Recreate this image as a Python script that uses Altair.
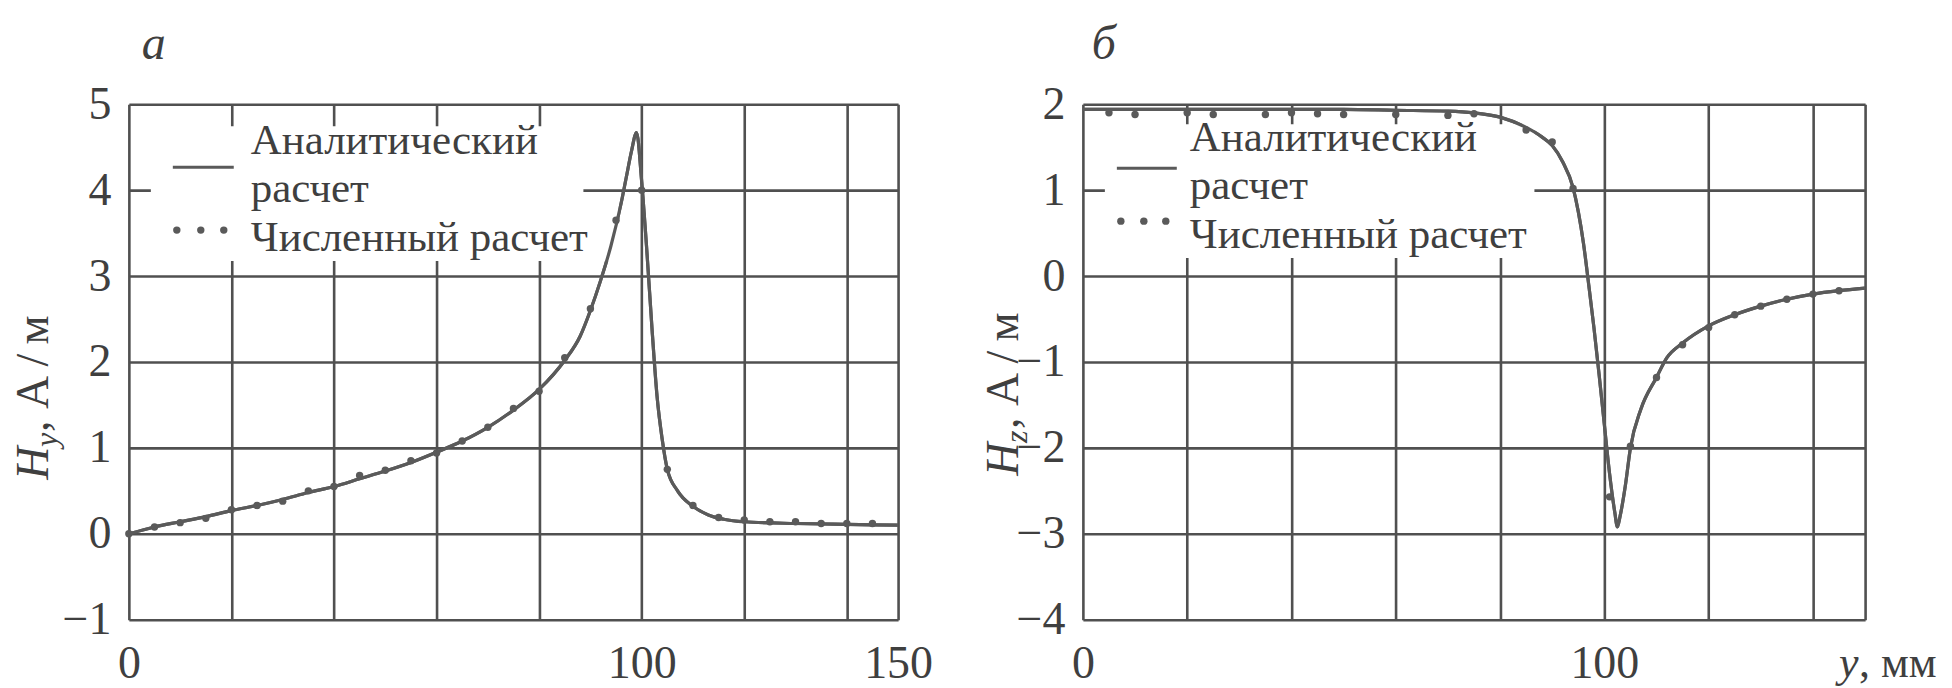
import altair as alt
import pandas as pd

# ---------------- data ----------------
# Panel a: H_y, analytical (line) and numerical (dots)
hy_line_x = [0, 5, 10, 15, 20, 25, 30, 35, 40, 45, 50, 55, 60, 65, 70, 75, 80, 85, 88, 90, 92, 94, 96, 97,
             98, 99, 100, 101, 102, 103, 104, 105, 107, 110, 113, 116, 120, 130, 140, 150]
hy_line_y = [0.0, 0.08, 0.14, 0.2, 0.27, 0.33, 0.4, 0.48, 0.55, 0.64, 0.73, 0.83, 0.95, 1.08, 1.24, 1.44,
             1.68, 2.02, 2.3, 2.6, 2.95, 3.35, 3.85, 4.15, 4.45, 4.67, 4.1, 3.3, 2.4, 1.6, 1.1, 0.75, 0.5,
             0.32, 0.22, 0.17, 0.14, 0.12, 0.11, 0.1]
hy_dot_x = [0, 5, 10, 15, 20, 25, 30, 35, 40, 45, 50, 55, 60, 65, 70, 75, 80, 85, 90, 95, 100, 105, 110,
            115, 120, 125, 130, 135, 140, 145]
hy_dot_y = [0.0, 0.08, 0.13, 0.18, 0.28, 0.33, 0.38, 0.5, 0.55, 0.68, 0.74, 0.85, 0.94, 1.08, 1.24, 1.46,
            1.66, 2.05, 2.62, 3.65, 4.0, 0.75, 0.33, 0.19, 0.16, 0.14, 0.14, 0.12, 0.12, 0.12]

# Panel б: H_z
hz_line_x = [0, 10, 20, 30, 40, 50, 60, 70, 75, 80, 85, 88, 90, 92, 94, 95, 96, 97, 98, 99, 100, 101, 102,
             102.5, 103, 104, 105, 107, 110, 112, 115, 120, 125, 130, 135, 140, 145, 150]
hz_line_y = [1.94, 1.94, 1.94, 1.94, 1.94, 1.94, 1.93, 1.92, 1.9, 1.85, 1.73, 1.62, 1.52, 1.33, 1.03, 0.75,
             0.38, -0.1, -0.6, -1.15, -1.73, -2.3, -2.75, -2.92, -2.8, -2.45, -2.0, -1.55, -1.18, -0.95,
             -0.78, -0.58, -0.45, -0.35, -0.27, -0.21, -0.17, -0.14]
hz_dot_x = [5, 10, 20, 25, 35, 40, 45, 50, 60, 70, 75, 85, 90, 94, 101, 105, 110, 115, 120, 125, 130, 135,
            140, 145]
hz_dot_y = [1.9, 1.88, 1.9, 1.88, 1.88, 1.9, 1.89, 1.88, 1.88, 1.87, 1.89, 1.7, 1.56, 1.02, -2.57, -1.98,
            -1.18, -0.8, -0.6, -0.45, -0.35, -0.27, -0.21, -0.17]

x_grid = [0, 20, 40, 60, 80, 100, 120, 140, 150]
hy_ticks = [-1, 0, 1, 2, 3, 4, 5]
hz_ticks = [-4, -3, -2, -1, 0, 1, 2]

legend_line = "Аналитический"
legend_line2 = "расчет"
legend_dots = "Численный расчет"

# ---------------- style ----------------
FONT = "Liberation Serif"
INK = "#3f3f3f"
GRID = "#505050"
CURVE = "#5a5a5a"
W_L, W_R, H = 770, 783, 516
TICK_FS = 46
LEG_FS = 43
TITLE_FS = 46


def txt(s, x, y, size, italic=False, align="left", angle=0, baseline="alphabetic"):
    kw = dict(align=align, baseline=baseline, fontSize=size, font=FONT, color=INK,
              fontStyle="italic" if italic else "normal")
    if angle:
        kw["angle"] = angle
    return alt.Chart(pd.DataFrame({"t": [s]})).mark_text(**kw).encode(
        x=alt.value(x), y=alt.value(y), text="t:N")


def rect(x1, x2, y1, y2):
    return alt.Chart(pd.DataFrame({"a": [0]})).mark_rect(color="white").encode(
        x=alt.value(x1), x2=alt.value(x2), y=alt.value(y1), y2=alt.value(y2))


def panel(lx, ly, dx, dy, ydom, yticks, xlabels, width, legend, extra):
    ldf = pd.DataFrame({"x": lx, "y": ly})
    ddf = pd.DataFrame({"x": dx, "y": dy})
    label_test = " || ".join(f"datum.value == {v}" for v in xlabels)
    xenc = alt.X("x:Q", scale=alt.Scale(domain=[0, 150], nice=False, zero=False),
                 axis=alt.Axis(values=x_grid, grid=True, ticks=False, domain=False, title=None,
                               labelExpr=f"({label_test}) ? datum.label : ''",
                               labelFont=FONT, labelFontSize=TICK_FS, labelColor=INK,
                               labelBaseline="alphabetic",
                               labelPadding=58, labelFlush=False, gridColor=GRID,
                               gridWidth=2.6, gridOpacity=1, labelOverlap=False))
    yenc = alt.Y("y:Q", scale=alt.Scale(domain=ydom, nice=False, zero=False),
                 axis=alt.Axis(values=yticks, grid=True, ticks=False, domain=False, title=None,
                               format="d",
                               labelFont=FONT, labelFontSize=TICK_FS, labelColor=INK,
                               labelPadding=18, labelFlush=False, gridColor=GRID,
                               gridWidth=2.6, gridOpacity=1, labelOverlap=False))
    line = alt.Chart(ldf).mark_line(color=CURVE, strokeWidth=3.2, interpolate="monotone").encode(
        x=xenc, y=yenc)
    dots = alt.Chart(ddf).mark_circle(color=CURVE, size=55, opacity=1).encode(x="x:Q", y="y:Q")

    (boxes, lsx1, lsx2, lsy, dxs, dys, tx, b1, b2, b3) = legend
    sample = alt.Chart(pd.DataFrame({"a": [0]})).mark_rule(color=CURVE, strokeWidth=3).encode(
        x=alt.value(lsx1), x2=alt.value(lsx2), y=alt.value(lsy))
    dsample = [alt.Chart(pd.DataFrame({"a": [0]})).mark_circle(color=CURVE, size=55, opacity=1).encode(
        x=alt.value(px), y=alt.value(dys)) for px in dxs]
    texts = [txt(legend_line, tx, b1, LEG_FS), txt(legend_line2, tx, b2, LEG_FS),
             txt(legend_dots, tx, b3, LEG_FS)]
    layers = [line] + [rect(*b) for b in boxes] + [sample] + dsample + texts + extra + [line, dots]
    return alt.layer(*layers).properties(width=width, height=H)


# invisible frame that fixes the page bounds at exactly 1952 x 688
frame = alt.Chart(pd.DataFrame({"a": [0]})).mark_rect(opacity=0, fill="white").encode(
    x=alt.value(-128), x2=alt.value(1952 - 128), y=alt.value(-103), y2=alt.value(688 - 103))

unit = ", А\u2009/\u2009м"
left_extra = [
    frame,
    txt("a", 25, -45, 48, italic=True, align="center"),
    txt("H", -81, 376, TITLE_FS, italic=True, angle=270),
    txt("y", -72, 343, 32, italic=True, angle=270),
    txt(unit, -81, 328, TITLE_FS, angle=270),
]
right_extra = [
    txt("б", 21, -45, 48, italic=True, align="center"),
    txt("H", -65, 372, TITLE_FS, italic=True, angle=270),
    txt("z", -56, 339, 32, italic=True, angle=270),
    txt(unit, -65, 325, TITLE_FS, angle=270),
    txt("y", 757, 573, 44, italic=True),
    txt(", мм", 777, 573, 44),
]

left = panel(hy_line_x, hy_line_y, hy_dot_x, hy_dot_y, [-1, 5], hy_ticks, [0, 100, 150], W_L,
             ([(22, 455, 22, 157), (22, 490, 95, 157)], 44, 105, 63, [48, 72, 95], 126, 122, 50, 98, 147),
             left_extra)
right = panel(hz_line_x, hz_line_y, hz_dot_x, hz_dot_y, [-4, 2], hz_ticks, [0, 100], W_R,
              ([(22, 452, 20, 154), (22, 470, 95, 154)], 34, 94, 64, [38, 61, 83], 117, 107, 47, 95, 144),
              right_extra)

chart = alt.hconcat(left, right, spacing=185, bounds="flush").properties(
    padding=0
).configure_view(stroke=GRID, strokeWidth=3, fill="white").configure(background="white")

chart.save("out.html", embed_options={"renderer": "svg", "actions": False})
